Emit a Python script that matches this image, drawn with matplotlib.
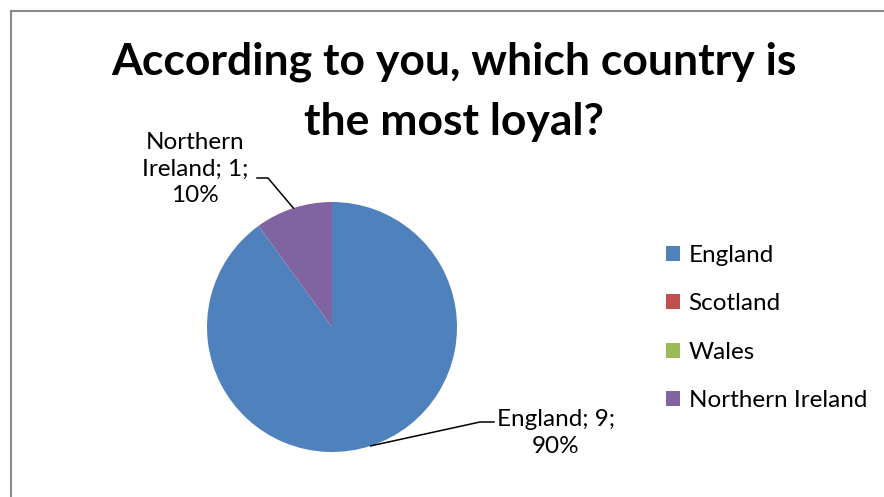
import numpy as np
import matplotlib
matplotlib.use("Agg")
import matplotlib.pyplot as plt
from matplotlib.patches import Rectangle

plt.rcParams['font.family'] = ['Lato', 'DejaVu Sans']

# Survey data
countries = ["England", "Scotland", "Wales", "Northern Ireland"]
votes = [9, 0, 0, 1]
colors = ["#4F81BD", "#C0504D", "#9BBB59", "#8064A2"]
title_lines = ["According to you, which country is", "the most loyal?"]

W, H = 884, 497
fig = plt.figure(figsize=(W / 100, H / 100), dpi=100)
ax = fig.add_axes([0, 0, 1, 1])

cx, cy, r = 332, H - 327, 125
wedges, _ = ax.pie(votes, colors=colors, startangle=90, counterclock=False,
                   center=(cx, cy), radius=r,
                   wedgeprops=dict(linewidth=0))
ax.set_xlim(0, W)
ax.set_ylim(0, H)
ax.set_aspect('equal')
ax.axis('off')

# chart border
ax.add_patch(Rectangle((10.5, -20), W + 40, H - 10.5 + 20, fill=False,
                       edgecolor="#8a8a8a", linewidth=1.5, clip_on=False))

# two-line bold title
for line, y in zip(title_lines, [62, 122]):
    ax.text(454, H - y, line, ha='center', va='center', fontsize=32,
            fontweight='bold')

total = sum(votes)
# label layout: (text centre, elbow, line end) in pixels from top-left
layout = {
    "Northern Ireland": dict(text=(195, 169), elbow=(268, 178), end=(257, 178),
                             fmt="Northern\nIreland; {v};\n{p}%"),
    "England": dict(text=(556, 433), elbow=(480, 422), end=(494, 422),
                    fmt="{n}; {v};\n{p}%"),
}
for w, name, v in zip(wedges, countries, votes):
    if v == 0 or name not in layout:
        continue
    L = layout[name]
    mid = np.deg2rad((w.theta1 + w.theta2) / 2)
    ax_x = cx + r * np.cos(mid)
    ax_y = cy + r * np.sin(mid)
    ex, ey = L["elbow"]
    tx, ty = L["end"]
    ax.plot([ax_x, ex, tx], [ax_y, H - ey, H - ty], color='black', lw=1.1)
    pct = round(100 * v / total)
    ax.text(L["text"][0], H - L["text"][1], L["fmt"].format(n=name, v=v, p=pct),
            ha='center', va='center', fontsize=17.5, linespacing=1.33)

fs = 17.5
leg = ax.legend(wedges, countries, loc='upper left',
                bbox_to_anchor=(666 / W, 1 - 245 / H), frameon=False,
                fontsize=fs, handlelength=0.58, handleheight=0.58,
                handletextpad=0.35, labelspacing=1.13, borderpad=0,
                borderaxespad=0)

fig.savefig("out.png", dpi=100)
